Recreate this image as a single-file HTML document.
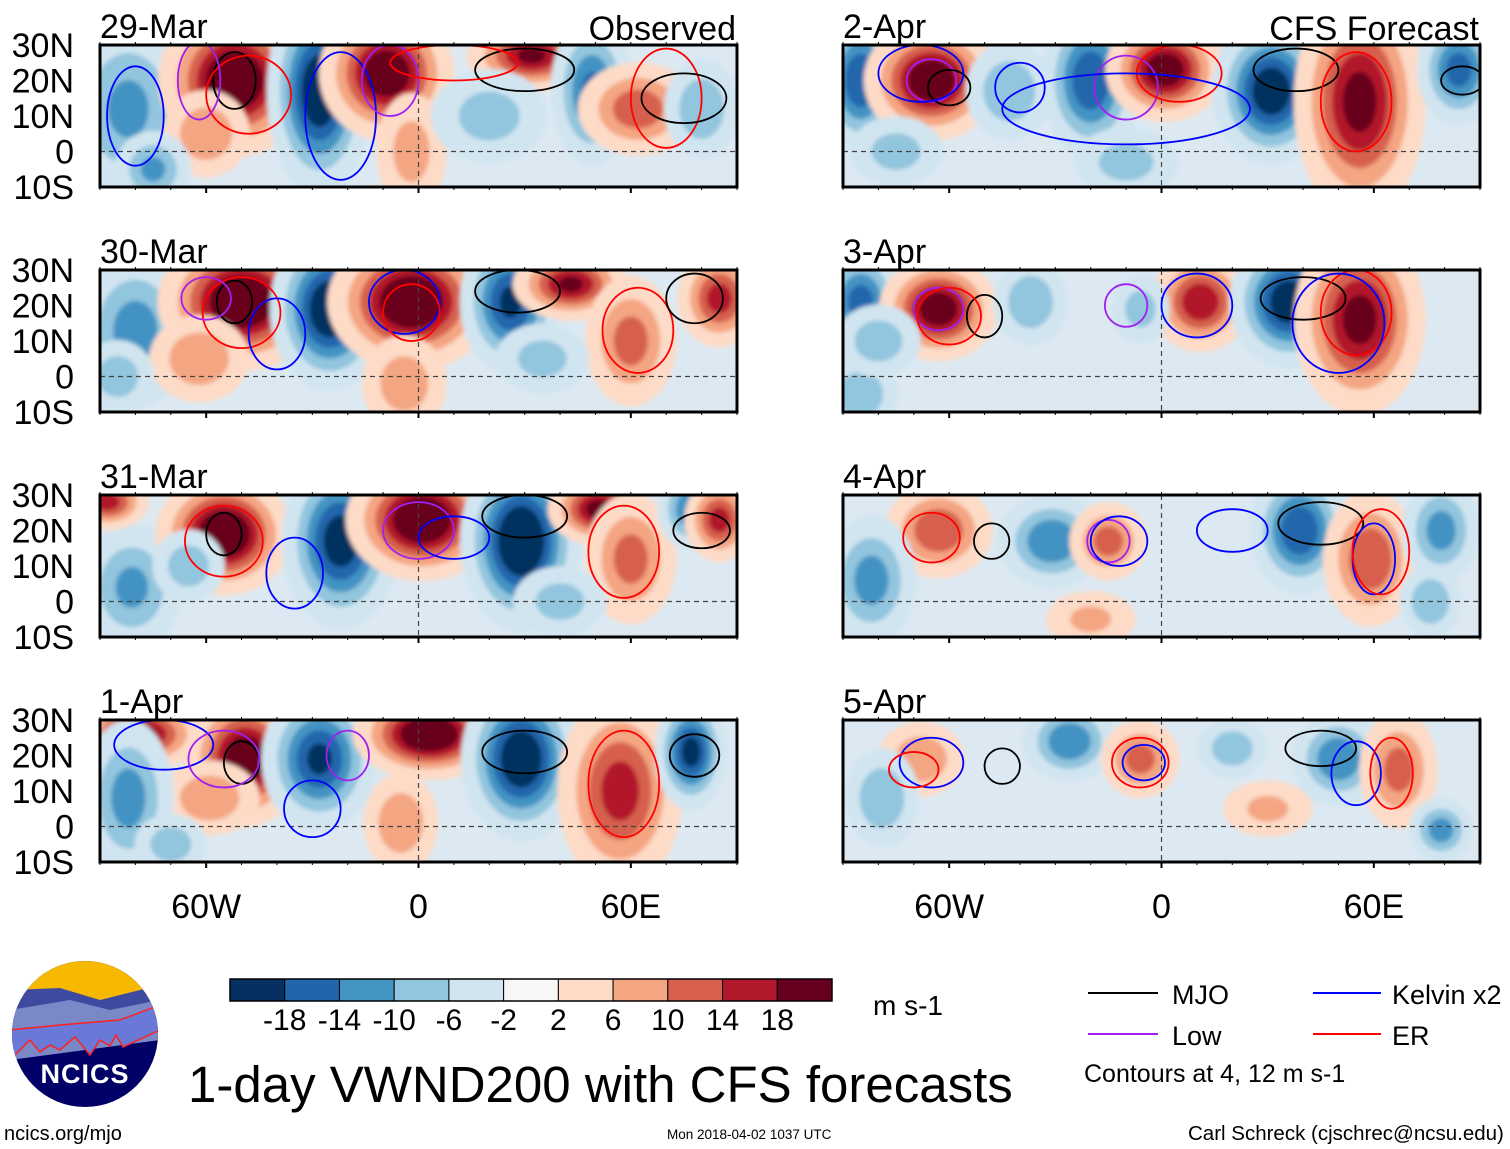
<!DOCTYPE html>
<html><head><meta charset="utf-8">
<style>
html,body{margin:0;padding:0;background:#fff;}
svg{display:block;font-family:"Liberation Sans",sans-serif;}
</style></head>
<body>
<svg id="fig" width="1510" height="1149" viewBox="0 0 1510 1149" xmlns="http://www.w3.org/2000/svg">
<defs>
<filter id="soft" x="-20%" y="-20%" width="140%" height="140%"><feGaussianBlur stdDeviation="2"/></filter>
</defs>
<g id="panels"></g>
<g id="colorbar"></g>
<text x="873" y="1015" font-size="28">m s-1</text>
<text x="188" y="1102" font-size="51">1-day VWND200 with CFS forecasts</text>
<g>
<line x1="1088" y1="993" x2="1158" y2="993" stroke="#000" stroke-width="2"/>
<text x="1172" y="1004" font-size="27">MJO</text>
<line x1="1313" y1="993" x2="1381" y2="993" stroke="#0000ff" stroke-width="2"/>
<text x="1392" y="1004" font-size="27">Kelvin x2</text>
<line x1="1088" y1="1034" x2="1158" y2="1034" stroke="#a020f0" stroke-width="2"/>
<text x="1172" y="1045" font-size="27">Low</text>
<line x1="1313" y1="1034" x2="1381" y2="1034" stroke="#ff0000" stroke-width="2"/>
<text x="1392" y="1045" font-size="27">ER</text>
<text x="1084" y="1082" font-size="25">Contours at 4, 12 m s-1</text>
</g>
<text x="1188" y="1140" font-size="20.5">Carl Schreck (cjschrec@ncsu.edu)</text>
<text x="667" y="1139" font-size="13.5">Mon 2018-04-02 1037 UTC</text>
<text x="4" y="1140" font-size="20">ncics.org/mjo</text>
<g>
<clipPath id="logoclip"><circle cx="85" cy="1034" r="73"/></clipPath>
<g clip-path="url(#logoclip)">
<rect x="10" y="960" width="150" height="150" fill="#000066"/>
<rect x="10" y="960" width="150" height="55" fill="#f7b800"/>
<path d="M10 990 L60 988 L100 1000 L160 985 L160 1030 L10 1050Z" fill="#3d4aa0"/>
<path d="M10 1010 L70 1000 L110 1010 L160 1000 L160 1040 L10 1060Z" fill="#7a88c8"/>
<path d="M10 1030 L60 1025 L120 1020 L160 1005 L160 1030 L123 1047 L116 1035 L110 1046 L100 1040 L90 1055 L75 1037 L60 1050 L50 1045 L40 1052 L30 1040 L10 1060Z" fill="#6a78d8" stroke="#ff2020" stroke-width="1.5"/>
</g>
<text x="85" y="1083" font-size="27" font-weight="bold" fill="#fff" text-anchor="middle" letter-spacing="1">NCICS</text>
</g>
</svg>
<script>
// colour levels
const levels = [-18,-14,-10,-6,-2,2,6,10,14,18];
const colors = ["#053061","#2166ac","#4393c3","#92c5de","#d1e5f0","#f7f7f7","#fddbc7","#f4a582","#d6604d","#b2182b","#67001f"];
const panelTitles = ["29-Mar","30-Mar","31-Mar","1-Apr","2-Apr","3-Apr","4-Apr","5-Apr"];
const latTicks = ["30N","20N","10N","0","10S"];
const latTickValues = [30,20,10,0,-10];
const lonTicks = ["60W","0","60E"];
const lonTickValues = [-60,0,60];
// anomaly blobs per panel: [lon, lat, value m/s, rxDeg, ryDeg]
const blobs29Mar = [[-82,12,-8,10,14],[-52,20,22,10,10],[-28,17,-20,7,14],[-9,22,20,9,9],[32,27,16,9,5],[49,17,-12,6,11],[62,12,10,9,7],[80,12,-7,6,8],[-60,5,7,7,7],[-2,0,5,6,10],[-75,-5,-8,6,6],[20,10,-5,10,8]];
const blobs30Mar = [[-80,13,-9,9,12],[-50,21,22,11,9],[-25,19,-20,8,11],[-2,21,22,11,9],[26,21,-16,7,10],[43,26,16,8,5],[60,10,9,7,10],[85,22,13,6,7],[-62,5,7,8,7],[-4,-2,6,7,8],[-85,0,-6,6,6],[35,5,-5,8,6]];
const blobs31Mar = [[-81,4,-8,8,10],[-55,19,22,9,8],[-22,17,-18,8,12],[1,23,22,10,8],[29,17,-22,8,12],[51,26,17,7,5],[60,12,9,7,10],[77,26,-11,5,6],[85,23,13,5,6],[-88,28,13,6,4],[-65,10,-6,6,6],[40,0,-5,8,6]];
const blobs1Apr = [[-79,26,17,9,5],[-49,19,20,8,9],[-28,19,-16,8,10],[3,26,22,10,6],[29,19,-20,8,11],[57,10,13,9,14],[77,21,-17,5,8],[-59,8,7,8,6],[-5,1,7,6,8],[-82,8,-9,7,12],[-70,-5,-6,6,5]];
const blobs2Apr = [[-85,20,-15,6,10],[-65,20,20,9,8],[-43,17,-7,7,8],[-20,20,-15,7,11],[1,23,19,8,7],[31,17,-19,8,10],[56,14,17,9,16],[84,23,-13,6,8],[-10,-3,-5,9,6],[-75,0,-5,8,6]];
const blobs3Apr = [[-85,21,-13,6,8],[-63,19,19,8,7],[-37,21,-7,6,7],[11,21,15,7,7],[36,21,-19,8,9],[56,16,17,9,13],[-6,19,-5,5,6],[-85,-5,-7,6,6],[-80,10,-6,7,6]];
const blobs4Apr = [[-63,20,11,8,7],[-31,17,-11,8,7],[-15,17,9,6,6],[39,20,-15,7,9],[59,12,11,7,10],[79,20,-9,6,8],[-82,6,-9,7,10],[76,0,-7,5,6],[-20,-5,4,8,5]];
const blobs5Apr = [[-68,19,7,7,6],[-26,24,-11,7,6],[-6,19,9,6,6],[50,19,-11,7,7],[67,16,9,6,9],[79,-1,-9,5,5],[-79,8,-7,6,8],[20,22,-6,6,5],[30,5,4,8,5]];
const panelBlobs = [blobs29Mar,blobs30Mar,blobs31Mar,blobs1Apr,blobs2Apr,blobs3Apr,blobs4Apr,blobs5Apr];
// contour ellipses per panel: [lon, lat, rxDeg, ryDeg, type]
const contours29Mar = [[-52,20,6,8,"k"],[-48,16,12,11,"r"],[-62,20,6,11,"p"],[-80,10,8,14,"b"],[-22,10,10,18,"b"],[-8,20,8,10,"p"],[30,23,14,6,"k"],[70,15,10,14,"r"],[75,15,12,7,"k"],[10,25,18,5,"r"]];
const contours30Mar = [[-52,21,5,6,"k"],[-50,18,11,10,"r"],[-60,22,7,6,"p"],[-40,12,8,10,"b"],[-4,21,10,9,"b"],[-2,18,8,8,"r"],[28,24,12,6,"k"],[62,13,10,12,"r"],[78,22,8,7,"k"]];
const contours31Mar = [[-55,19,5,6,"k"],[-55,17,11,10,"r"],[-35,8,8,10,"b"],[0,20,10,8,"p"],[30,24,12,6,"k"],[58,14,10,13,"r"],[80,20,8,5,"k"],[10,18,10,6,"b"]];
const contours1Apr = [[-72,23,14,7,"b"],[-50,18,5,6,"k"],[-55,19,10,8,"p"],[-30,5,8,8,"b"],[30,21,12,6,"k"],[58,12,10,15,"r"],[78,20,7,6,"k"],[-20,20,6,7,"p"]];
const contours2Apr = [[-65,20,7,6,"p"],[-60,18,6,5,"k"],[-68,22,12,8,"b"],[-40,18,7,7,"b"],[-10,18,9,9,"p"],[5,22,12,8,"r"],[38,23,12,6,"k"],[55,14,10,14,"r"],[85,20,6,4,"k"],[-10,12,35,10,"b"]];
const contours3Apr = [[-63,19,7,6,"p"],[-50,17,5,6,"k"],[-60,17,9,8,"r"],[-10,20,6,6,"p"],[10,20,10,9,"b"],[40,22,12,6,"k"],[55,18,10,12,"r"],[50,15,13,14,"b"]];
const contours4Apr = [[-65,18,8,7,"r"],[-48,17,5,5,"k"],[-15,17,6,6,"p"],[-12,17,8,7,"b"],[45,22,12,6,"k"],[60,12,6,10,"b"],[62,14,8,12,"r"],[20,20,10,6,"b"]];
const contours5Apr = [[-65,18,9,7,"b"],[-45,17,5,5,"k"],[-6,18,8,7,"r"],[-5,18,6,5,"b"],[45,22,10,5,"k"],[55,15,7,9,"b"],[65,15,6,10,"r"],[-70,16,7,5,"r"]];
const panelContours = [contours29Mar,contours30Mar,contours31Mar,contours1Apr,contours2Apr,contours3Apr,contours4Apr,contours5Apr];

const NS = "http://www.w3.org/2000/svg";
const strokeOf = {k:"#000000",b:"#0000ff",p:"#a020f0",r:"#ff0000"};
function mk(tag, attrs, parent){const e=document.createElementNS(NS,tag);for(const k in attrs)e.setAttribute(k,attrs[k]);parent.appendChild(e);return e;}
function colorFor(v){let i=0;while(i<levels.length&&v>levels[i])i++;return colors[i];}

const panelsG = document.getElementById("panels");
const lefts=[100,843], W=637, H=142, tops=[45,270,495,720];
for(let p=0;p<8;p++){
  const x0=lefts[Math.floor(p/4)], y0=tops[p%4];
  const xs=lon=>x0+(lon+90)/180*W;
  const ys=lat=>y0+(30-lat)/40*H;
  const g=mk("g",{},panelsG);
  
  
  const cid="clip"+p;
  const cp=mk("clipPath",{id:cid},g);
  mk("rect",{x:x0,y:y0,width:W,height:H},cp);
  const inner=mk("g",{"clip-path":"url(#"+cid+")"},g);
  mk("rect",{x:x0,y:y0,width:W,height:H,fill:"#dde9f2"},inner);
  const fill=mk("g",{filter:"url(#soft)"},inner);
  for(const b of panelBlobs[p]){
    const [lon,lat,v,rx,ry]=b; const a=Math.abs(v);
    const steps=[2,6,10,14,18].filter(l=>l<a+3);
    for(const l of steps){
      const f=Math.sqrt(Math.log((a+4)/l))*1.35;
      const e=mk("ellipse",{cx:xs(lon),cy:ys(lat),rx:rx*f*W/180,ry:ry*f*H/40,fill:colorFor(v>0?l+1:-l-1)},fill);
      
      
    }
  }
  mk("line",{x1:x0,x2:x0+W,y1:ys(0),y2:ys(0),stroke:"#444","stroke-dasharray":"5,4","stroke-width":1.2},inner);
  mk("line",{x1:xs(0),x2:xs(0),y1:y0,y2:y0+H,stroke:"#444","stroke-dasharray":"5,4","stroke-width":1.2},inner);
  for(const c of panelContours[p]){
    const [lon,lat,rx,ry,t]=c;
    const e=mk("ellipse",{cx:xs(lon),cy:ys(lat),rx:rx*W/180,ry:ry*H/40,fill:"none",stroke:strokeOf[t],"stroke-width":1.8},inner);
    
    
  }
  mk("rect",{x:x0,y:y0,width:W,height:H,fill:"none",stroke:"#000","stroke-width":3},g);
  for(let lon=-90;lon<=90;lon+=10){
    const big=lon%60===0;
    mk("line",{x1:xs(lon),x2:xs(lon),y1:y0+H,y2:y0+H+(big?6:3),stroke:"#000","stroke-width":big?2:1},g);
    mk("line",{x1:xs(lon),x2:xs(lon),y1:y0,y2:y0-3,stroke:"#000","stroke-width":1},g);
  }
  const tt=mk("text",{x:x0,y:y0-7,"font-size":34},g);
  tt.textContent=panelTitles[p];
  
  
  if(p%4===0){
    const lab=mk("text",{x:x0+W-1,y:y0-5,"font-size":34,"text-anchor":"end"},g);
    lab.textContent=p===0?"Observed":"CFS Forecast";
    
    
  }
  if(p<4){
    latTickValues.forEach((lt,i)=>{
      const t=mk("text",{x:74,y:ys(lt)+12,"font-size":34,"text-anchor":"end"},g);
      t.textContent=latTicks[i];
      
      
    });
  }
  if(p%4===3){
    lonTickValues.forEach((ln,i)=>{
      const t=mk("text",{x:xs(ln),y:918,"font-size":34,"text-anchor":"middle"},g);
      t.textContent=lonTicks[i];
      
      
    });
  }
}
// colorbar
const cb=document.getElementById("colorbar");
const cbx=230, cbw=602, cby=979, cbh=22, bw=cbw/colors.length;
colors.forEach((c,i)=>{
  const r=mk("rect",{x:cbx+i*bw,y:cby,width:bw,height:cbh,fill:c,stroke:"#000","stroke-width":1},cb);
  
  
});
mk("rect",{x:cbx,y:cby,width:cbw,height:cbh,fill:"none",stroke:"#000","stroke-width":1.5},cb);
levels.forEach((l,i)=>{
  const t=mk("text",{x:cbx+(i+1)*bw,y:1030,"font-size":30,"text-anchor":"middle"},cb);
  t.textContent=String(l);
  
  
});
</script>
</body></html>
